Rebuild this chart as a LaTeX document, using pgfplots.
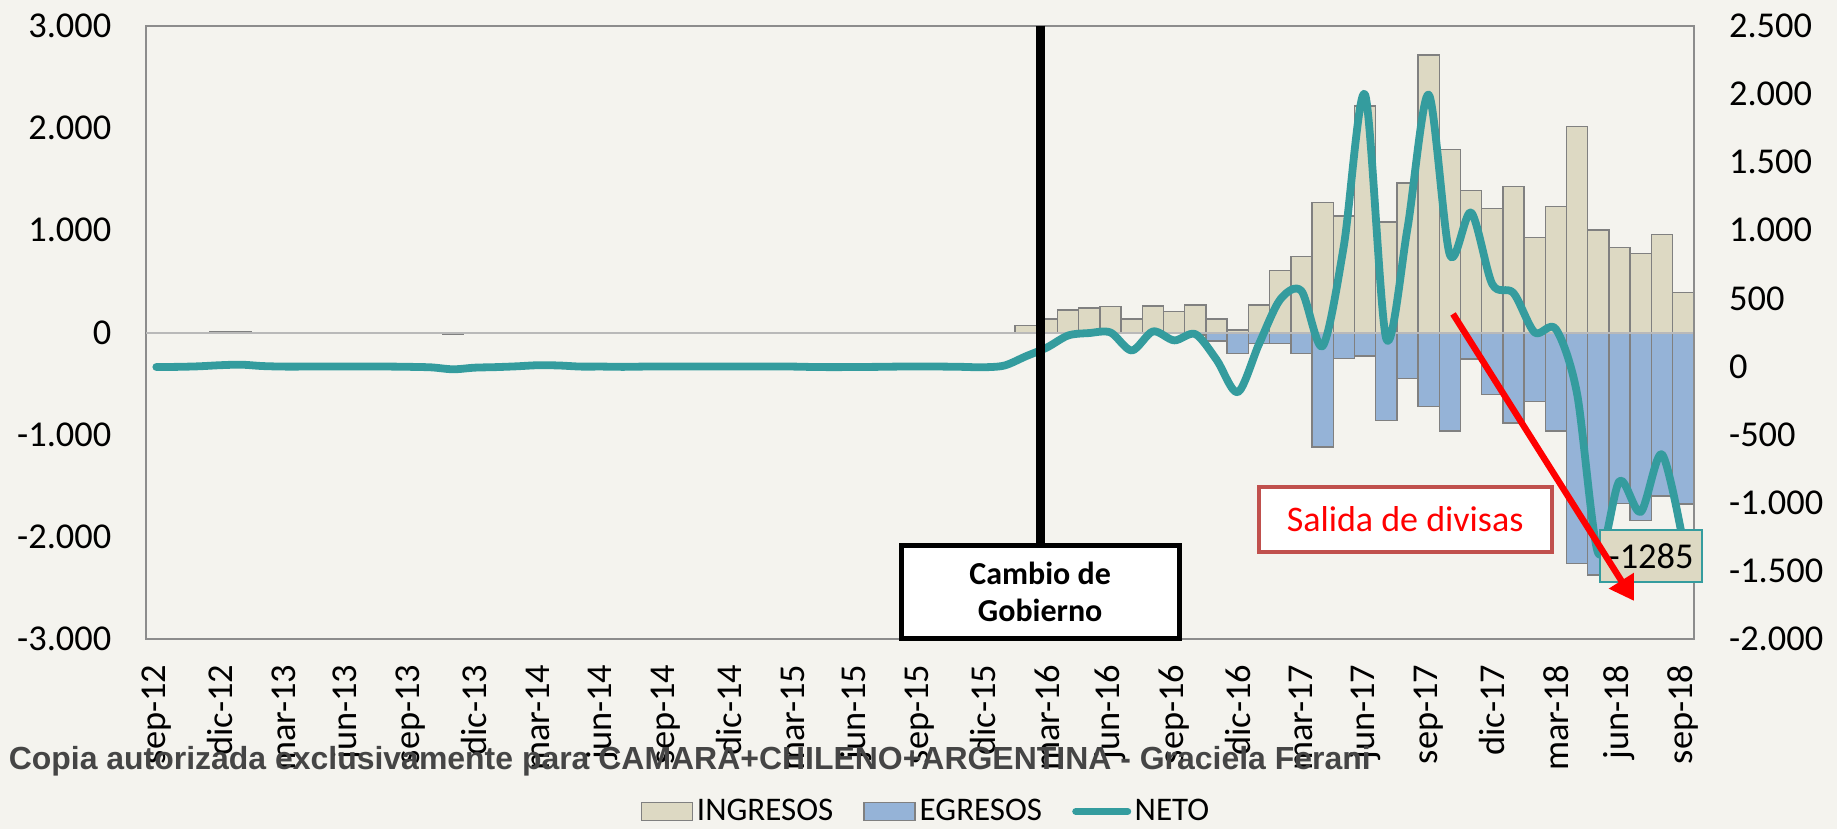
\documentclass[border=0pt]{standalone}
\usepackage{pgfplots}
\usepackage{pgfplotstable}
\pgfplotsset{compat=1.18}
\usepackage{fontspec}
\setmainfont{Carlito}
\newfontfamily\wmfont{Liberation Sans}
\usetikzlibrary{arrows.meta}
\definecolor{bgc}{HTML}{F4F3EE}
\definecolor{ing}{HTML}{DDD9C3}
\definecolor{egr}{HTML}{95B3D7}
\definecolor{neto}{HTML}{349C9E}
\definecolor{bord}{HTML}{808080}
\definecolor{axc}{HTML}{8C8C8C}
\definecolor{salida}{HTML}{C0504D}
\definecolor{wm}{HTML}{454545}

\pgfplotstableread{
i ing egr neto
0 0 -8 -3
1 0 -8 -2
2 0 -8 2
3 4 0 10
4 12 0 14
5 0 0 4
6 0 0 0
7 0 0 0
8 0 0 0
9 0 0 0
10 0 0 0
11 0 0 0
12 0 0 -2
13 0 -4 -6
14 0 -14 -20
15 0 -5 -8
16 0 -5 -4
17 0 -5 2
18 0 0 10
19 0 0 8
20 0 -5 0
21 0 0 0
22 0 -5 -2
23 0 0 0
24 0 0 0
25 0 0 0
26 0 0 0
27 0 0 0
28 0 0 0
29 0 0 0
30 0 0 0
31 0 -5 -3
32 0 -5 -4
33 0 -3 -3
34 0 -3 -2
35 0 0 0
36 0 0 0
37 0 0 0
38 0 0 -2
39 0 -5 -5
40 0 0 8
41 66 0 75
42 131 0 140
43 220 0 228
44 240 0 246
45 252 0 250
46 131 0 118
47 260 0 258
48 205 0 192
49 269 -25 238
50 131 -82 50
51 25 -207 -188
52 269 -108 165
53 607 -108 492
54 744 -207 555
55 1272 -1121 150
56 1140 -255 885
57 2213 -228 1995
58 1080 -858 205
59 1460 -448 1012
60 2713 -722 1995
61 1790 -963 820
62 1386 -258 1130
63 1215 -604 605
64 1425 -885 540
65 927 -675 250
66 1230 -963 275
67 2015 -2256 -200
68 1004 -2370 -1370
69 832 -1671 -839
70 773 -1839 -1066
71 957 -1600 -643
72 391 -1678 -1285
}\datatable

\begin{document}
\begin{tikzpicture}
\fill[bgc] (0,0) rectangle (918.5pt,414.5pt);
\begin{axis}[
  at={(72.85pt,94.85pt)}, anchor=south west,
  scale only axis, width=774pt, height=306.8pt,
  xmin=-0.5, xmax=72.5, ymin=-3000, ymax=3000,
  axis line style={draw=axc, line width=1pt},
  ytick={-3000,-2000,...,3000},
  xtick={0,3,...,72},
  xticklabels={sep-12,dic-12,mar-13,jun-13,sep-13,dic-13,mar-14,jun-14,sep-14,dic-14,mar-15,jun-15,sep-15,dic-15,mar-16,jun-16,sep-16,dic-16,mar-17,jun-17,sep-17,dic-17,mar-18,jun-18,sep-18},
  major tick length=0pt,
  scaled y ticks=false,
  /pgf/number format/1000 sep={.},
  /pgf/number format/assume math mode=true,
  tick label style={font=\fontsize{18.2}{20}\selectfont, inner sep=0pt},
  yticklabel style={anchor=east},
  yticklabel shift=17pt,
  xticklabel style={rotate=90, anchor=east},
  xticklabel shift=12.5pt,
  legend columns=3,
  legend style={at={(0.5045,-0.2805)}, anchor=center, draw=none, fill=none,
    font=\fontsize{16.5}{18}\selectfont, nodes={inner sep=1.75pt},
    /tikz/every even column/.append style={column sep=13.3pt}},
  clip=false,
]
\addplot[ybar, bar width=1, bar shift=0pt, fill=ing, draw=bord, line width=0.7pt,
  legend image code/.code={\draw[fill=ing, draw=bord, line width=0.9pt] (0pt,-4.5pt) rectangle (25.5pt,4.5pt);}]
  table[x=i, y=ing]{\datatable};
\addlegendentry{INGRESOS}
\addplot[ybar, bar width=1, bar shift=0pt, fill=egr, draw=bord, line width=0.7pt,
  legend image code/.code={\draw[fill=egr, draw=bord, line width=0.9pt] (0pt,-4.5pt) rectangle (25.5pt,4.5pt);}]
  table[x=i, y=egr]{\datatable};
\addlegendentry{EGRESOS}
\addlegendimage{legend image code/.code={\draw[neto, line width=3.6pt, line cap=round] (1.8pt,0pt) -- (27.7pt,0pt);}}
\addlegendentry{NETO}
\draw[gray!55, line width=1pt] (axis cs:-0.5,0) -- (axis cs:72.5,0);
\end{axis}
\begin{axis}[
  at={(72.85pt,94.85pt)}, anchor=south west,
  scale only axis, width=774pt, height=306.8pt,
  xmin=-0.5, xmax=72.5, ymin=-2000, ymax=2500,
  axis y line*=right, axis x line=none,
  axis line style={draw=axc, line width=1pt},
  ytick={-2000,-1500,...,2500},
  major tick length=0pt,
  scaled y ticks=false,
  /pgf/number format/1000 sep={.},
  /pgf/number format/assume math mode=true,
  tick label style={font=\fontsize{18.2}{20}\selectfont, inner sep=0pt},
  yticklabel style={anchor=west},
  yticklabel shift=17.5pt,
  clip=false,
]
\addplot[neto, line width=3.9pt, smooth, line cap=round, line join=round] table[x=i, y=neto]{\datatable};
\draw[black, line width=4.5pt] (axis cs:41.68,2500) -- (axis cs:41.68,-1294);
\node[draw=black, line width=2.5pt, fill=white, minimum width=139pt, minimum height=46.5pt,
  align=center, font=\fontsize{16}{18.8}\selectfont\bfseries] at (axis cs:41.68,-1653) {Cambio de\\Gobierno};
\node[draw=salida, line width=2pt, fill=white, minimum width=146.5pt, minimum height=32.5pt,
  text=red, font=\fontsize{18}{20}\selectfont] at (axis cs:58.89,-1120) {Salida de divisas};
\node[draw=neto, line width=1pt, fill=ing, minimum width=50.7pt, minimum height=26pt, inner sep=0pt,
  font=\fontsize{18.2}{20}\selectfont] at (axis cs:70.49,-1387) {-1285};
\draw[red, line width=3.2pt, -{Triangle[length=12pt,width=14pt]}] (axis cs:61.15,386) -- (axis cs:69.69,-1719);
\end{axis}
\node[anchor=base west, inner sep=0pt, text=wm] at (4.2pt,29.5pt)
  {\resizebox{681pt}{!}{\wmfont\bfseries\fontsize{16}{18}\selectfont Copia autorizada exclusivamente para CAMARA+CHILENO+ARGENTINA - Graciela Ferani}};
\pgfresetboundingbox
\path[use as bounding box] (0,0) rectangle (918.5pt,414.5pt);
\end{tikzpicture}
\end{document}
